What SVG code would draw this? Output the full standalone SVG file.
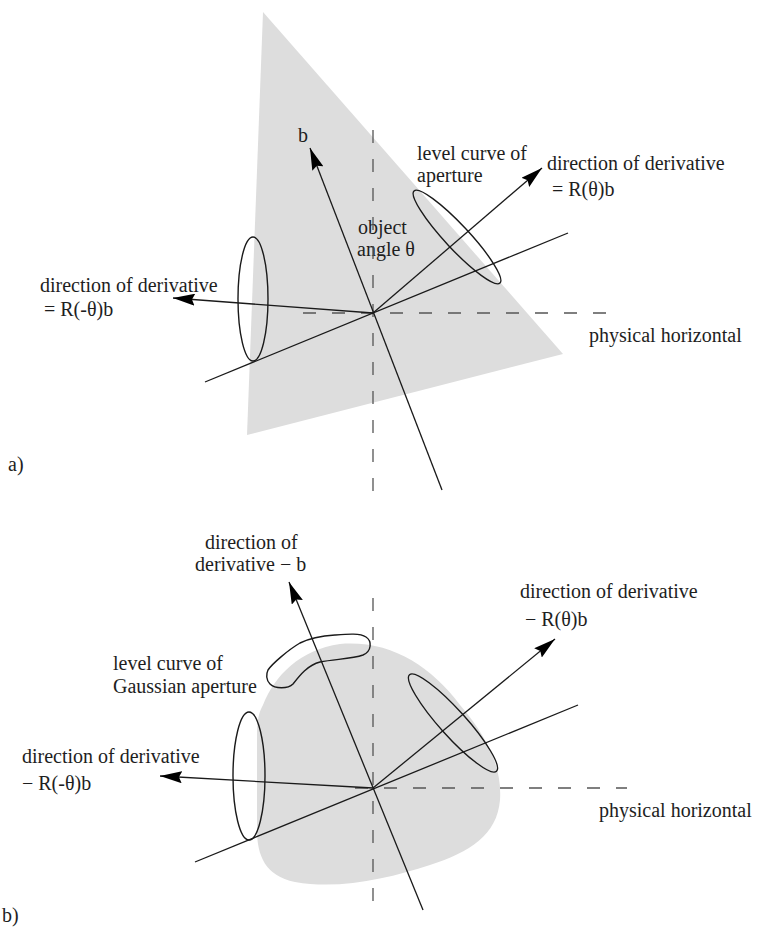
<svg xmlns="http://www.w3.org/2000/svg" width="767" height="931" viewBox="0 0 767 931">
<style>
text{font-family:"Liberation Serif","Times New Roman",serif;font-size:20px;fill:#1e1e1e}
.shade{fill:#dddddd;stroke:none}
.ln{stroke:#1a1a1a;stroke-width:1.3;fill:none}
.dash{stroke:#555;stroke-width:1.3;fill:none;stroke-dasharray:13 16}
.curve{stroke:#1a1a1a;stroke-width:1.4;fill:none}
</style>
<defs>
<marker id="ah" markerWidth="24" markerHeight="12" refX="22" refY="6" orient="auto" markerUnits="userSpaceOnUse">
<path d="M0,0 L22,6 L0,12 L3,6 z" fill="#000"/>
</marker>
</defs>

<!-- Panel a -->
<g id="a-object"><polygon class="shade" points="263,12 563,354 247,435"/></g>
<g id="a-ellipse-left"><ellipse class="curve" cx="253" cy="299" rx="15" ry="62"/></g>
<g id="a-ellipse-right"><ellipse class="curve" cx="457" cy="237" rx="63" ry="12" transform="rotate(47 457 237)"/></g>
<g id="a-labels">
<text x="298" y="142">b</text>
<text x="417" y="160">level curve of</text>
<text x="417" y="182">aperture</text>
<text x="547" y="170">direction of derivative</text>
<text x="552" y="196">= R(θ)b</text>
<text x="358" y="234">object</text>
<text x="357" y="256">angle θ</text>
<text x="40" y="292">direction of derivative</text>
<text x="44" y="316">= R(-θ)b</text>
<text x="589" y="342">physical horizontal</text>
<text x="8" y="471">a)</text>
</g>

<!-- Panel b -->
<g id="b-object"><path class="shade" d="M263,705 C275,675 300,650 340,644 C390,640 430,665 460,705 C490,740 502,770 500,800 C497,835 470,852 430,865 C390,878 340,890 295,882 C265,876 257,855 257,830 L257,735 C257,720 259,712 263,705 Z"/></g>
<g id="b-ellipse-left"><ellipse class="curve" cx="249" cy="776" rx="16" ry="64"/></g>
<g id="b-ellipse-right"><ellipse class="curve" cx="453" cy="723" rx="65" ry="13" transform="rotate(48 453 723)"/></g>
<g id="b-level-curve"><path class="curve" d="M268,670 C272,664 288,650 300,643 C310,638 320,636 335,635 C348,634 360,633 366,637 C372,641 372,651 363,655 C352,659 335,659 320,662 C308,665 300,675 293,684 C288,689 275,689 270,684 C266,680 266,674 268,670 Z"/></g>
<g id="b-labels">
<text x="205" y="549">direction of</text>
<text x="195" y="571">derivative − b</text>
<text x="520" y="598">direction of derivative</text>
<text x="525" y="626">− R(θ)b</text>
<text x="113" y="670">level curve of</text>
<text x="113" y="693">Gaussian aperture</text>
<text x="22" y="763">direction of derivative</text>
<text x="22" y="790">− R(-θ)b</text>
<text x="599" y="817">physical horizontal</text>
<text x="2" y="922">b)</text>
</g>

<g id="connectors">
<!-- panel a -->
<line class="dash" x1="373" y1="130" x2="373" y2="492"/>
<line class="dash" x1="303" y1="313" x2="615" y2="313"/>
<line class="ln" x1="205" y1="382" x2="568" y2="233"/>
<line class="ln" x1="442" y1="490" x2="310" y2="148" marker-end="url(#ah)"/>
<line class="ln" x1="373" y1="313" x2="542" y2="168" marker-end="url(#ah)"/>
<line class="ln" x1="373" y1="313" x2="173" y2="298" marker-end="url(#ah)"/>
<!-- panel b -->
<line class="dash" x1="373" y1="598" x2="373" y2="907"/>
<line class="dash" x1="355" y1="788" x2="627" y2="788"/>
<line class="ln" x1="195" y1="862" x2="578" y2="705"/>
<line class="ln" x1="423" y1="910" x2="289" y2="582" marker-end="url(#ah)"/>
<line class="ln" x1="373" y1="788" x2="555" y2="639" marker-end="url(#ah)"/>
<line class="ln" x1="373" y1="788" x2="160" y2="776" marker-end="url(#ah)"/>
</g>
</svg>
